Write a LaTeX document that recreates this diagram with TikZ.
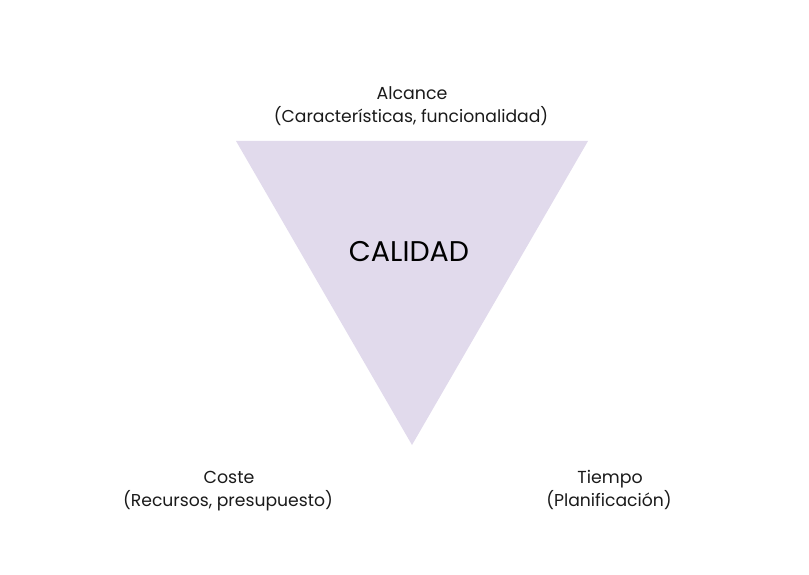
\documentclass[tikz,border=0pt]{standalone}
\usepackage{fontspec}
\setmainfont{Poppins}
\definecolor{trifill}{HTML}{E1DAEC}
\definecolor{txt}{HTML}{1A1A1A}
\begin{document}
\begin{tikzpicture}[x=1pt,y=-1pt,
  title/.style={text=txt,font=\fontsize{17.4}{19}\selectfont,inner sep=0pt,anchor=center,text height=12.5pt,text depth=4pt},
  sub/.style={text=txt,font=\fontsize{17.2}{19}\selectfont,inner sep=0pt,anchor=center,text height=12.5pt,text depth=4pt},
  big/.style={text=black,font=\fontsize{28.5}{31}\selectfont,inner sep=0pt,anchor=center}]
\useasboundingbox (0,0) rectangle (809,575);
\coordinate (tl) at (236,141);
\coordinate (tr) at (588,141);
\coordinate (bt) at (412,445);
\fill[trifill] (tl) -- (tr) -- (bt) -- cycle;
\node[big] (cal) at (409,252) {CALIDAD};
\node[title] (alc) at (412,95.5) {Alcance};
\node[sub] (alcs) at (411,118.5) {(Características, funcionalidad)};
\node[title] (cos) at (229,479.5) {Coste};
\node[sub] (coss) at (228,502.5) {(Recursos, presupuesto)};
\node[title] (tie) at (610,479.5) {Tiempo};
\node[sub] (ties) at (609,502.5) {(Planificación)};
\end{tikzpicture}
\end{document}
